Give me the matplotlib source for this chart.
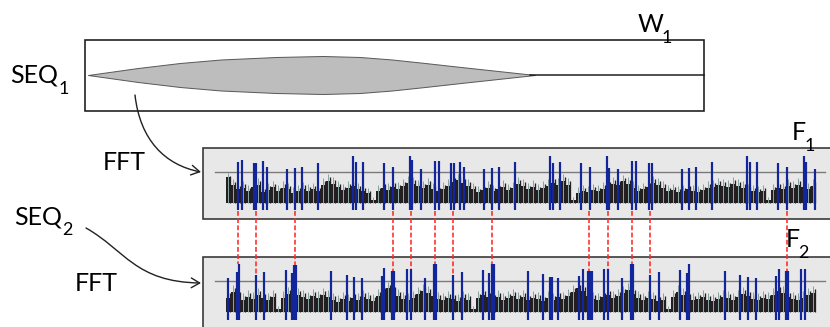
import matplotlib.pyplot as plt
import numpy as np
from matplotlib.patches import Rectangle, FancyArrowPatch
from matplotlib.path import Path

plt.rcParams['font.family'] = ['Lato', 'DejaVu Sans']

# window shape of SEQ1 (x, half height in px)
lens_x = [88, 138, 180, 221, 276, 323, 360, 392, 425, 461, 498, 535]
lens_h = [0, 7, 12, 15.5, 18, 19, 18, 15.5, 12, 8, 4, 0]

# background spectrum, one value per 5 px bin (height above base)
f1_black = [26, 18, 14, 15, 12, 16, 18, 11, 13, 16,
            12, 15, 14, 10, 12, 14, 12, 14, 12, 18,
            22, 19, 16, 13, 15, 17, 14, 12, 10, 3,
            12, 15, 13, 16, 14, 17, 20, 19, 17, 15,
            18, 14, 12, 14, 17, 21, 23, 20, 17, 14,
            11, 13, 15, 12, 14, 16, 13, 15, 19, 17,
            14, 16, 13, 15, 17, 20, 18, 22, 18, 3,
            10, 12, 11, 13, 12, 14, 17, 19, 18, 22,
            19, 15, 12, 14, 16, 20, 18, 15, 12, 13,
            11, 12, 14, 12, 11, 13, 15, 16, 18, 17,
            16, 19, 17, 15, 13, 12, 11, 12, 3, 13,
            15, 14, 17, 15, 18, 16, 14, 17]
f1_spike = [30, 24, 20, 22, 18, 24, 25, 17, 20, 22,
            18, 22, 20, 16, 18, 21, 19, 20, 18, 25,
            29, 26, 22, 19, 22, 24, 20, 18, 15, 6,
            18, 22, 20, 23, 21, 24, 27, 26, 23, 22,
            25, 20, 18, 21, 24, 28, 29, 27, 24, 20,
            17, 19, 22, 18, 20, 23, 19, 21, 26, 24,
            20, 23, 19, 22, 24, 27, 25, 29, 25, 6,
            16, 18, 17, 19, 18, 21, 24, 26, 25, 28,
            26, 22, 18, 20, 23, 27, 25, 22, 18, 19,
            17, 18, 20, 18, 17, 19, 22, 23, 25, 24,
            23, 26, 24, 22, 19, 18, 17, 18, 6, 19,
            22, 20, 24, 22, 25, 23, 20, 24]
f2_black = [14, 20, 16, 12, 15, 13, 17, 14, 12, 15,
            3, 14, 18, 20, 17, 15, 13, 16, 14, 17,
            15, 12, 10, 13, 11, 14, 12, 15, 13, 11,
            16, 20, 24, 21, 16, 13, 12, 14, 18, 21,
            19, 16, 13, 12, 14, 13, 11, 14, 12, 3,
            14, 17, 15, 13, 15, 12, 14, 16, 13, 15,
            12, 14, 13, 11, 14, 12, 15, 13, 16, 20,
            24, 21, 16, 13, 12, 15, 17, 14, 16, 19,
            22, 18, 14, 12, 14, 13, 11, 12, 3, 15,
            20, 17, 14, 12, 13, 15, 12, 11, 13, 15,
            14, 12, 15, 18, 16, 13, 12, 14, 13, 17,
            21, 19, 15, 13, 12, 14, 17, 19]
f2_spike = [22, 27, 23, 19, 22, 20, 24, 21, 19, 22,
            6, 21, 25, 28, 24, 22, 20, 23, 21, 24,
            22, 19, 17, 20, 18, 21, 19, 22, 20, 18,
            23, 27, 30, 28, 23, 20, 19, 21, 25, 28,
            26, 23, 20, 19, 21, 20, 18, 21, 19, 6,
            21, 24, 22, 20, 22, 19, 21, 23, 20, 22,
            19, 21, 20, 18, 21, 19, 22, 20, 23, 27,
            30, 28, 23, 20, 19, 22, 24, 21, 23, 26,
            29, 25, 21, 19, 21, 20, 18, 19, 6, 22,
            27, 24, 21, 19, 20, 22, 19, 18, 20, 22,
            21, 19, 22, 25, 23, 20, 19, 21, 20, 24,
            28, 26, 22, 20, 19, 21, 24, 26]

# peaks (x position, top y)
f1_peak_x = [238, 242, 254, 256, 263, 267, 287, 295, 302, 318, 353, 356, 363, 384, 393,
             410, 412, 421, 435, 439, 451, 454, 460, 464, 484, 492, 499, 515, 550, 553,
             560, 581, 590, 607, 609, 618, 632, 636, 649, 652, 682, 689, 696, 712, 747,
             750, 757, 778, 787, 804, 806, 815]
f1_peak_top = [162, 160, 163, 163, 161, 167, 169, 168, 167, 163, 156, 162, 162, 163, 167,
               156, 160, 169, 161, 161, 163, 163, 162, 167, 169, 168, 167, 162, 156, 163,
               162, 163, 167, 156, 168, 169, 161, 161, 163, 163, 169, 168, 167, 162, 156,
               162, 162, 163, 167, 156, 162, 169]
f2_peak_x = [228, 237, 239, 256, 264, 286, 292, 294, 296, 331, 347, 354, 362, 382, 383.5,
             392, 394, 407, 411, 425, 434, 436, 453, 462, 483, 489, 492, 493.5, 528, 543,
             550, 552, 558, 579, 583, 588, 590, 592, 604, 608, 622, 631, 633, 650, 659,
             680, 687, 689, 725, 740, 748, 756, 776, 779, 786, 788, 801, 805]
f2_peak_top = [278, 272, 264, 275, 272, 270, 273, 265, 265, 271, 275, 277, 278, 276, 268,
               271, 271, 269, 269, 278, 264, 264, 275, 272, 270, 273, 264, 264, 271, 274,
               277, 277, 278, 276, 269, 271, 271, 271, 269, 269, 278, 264, 264, 275, 272,
               270, 273, 264, 271, 275, 277, 278, 276, 269, 271, 271, 269, 269]

# matched peaks
match_x = [238, 256, 295, 393, 411, 435, 453, 492, 589, 608, 632, 650, 787]
match_end = [264, 275, 265, 271, 269, 264, 275, 264, 271, 269, 264, 275, 271]

fig = plt.figure(figsize=(8.3, 3.27), dpi=100)
ax = fig.add_axes([0, 0, 1, 1])
ax.set_xlim(0, 830)
ax.set_ylim(327, 0)
ax.axis('off')

PX = 0.72  # points per pixel

# top window box
ax.add_patch(Rectangle((85, 40), 619, 71, fill=False, ec='#1a1a1a', lw=1.6 * PX))
ax.plot([530, 704], [75, 75], color='#1a1a1a', lw=1.5 * PX)
lx = np.array(lens_x)
lh = np.array(lens_h)
ax.fill_between(lx, 75 - lh, 75 + lh, color='#bdbdbd', ec='#5a5a5a', lw=1 * PX)


def spectrum(top, height, base, black, spike, px, ptop, pbottom):
    ax.add_patch(Rectangle((203, top), 640, height, fc='#e8e8e8', ec='#333333', lw=1.6 * PX))
    ax.plot([215, 825], [base - 31, base - 31], color='#7a7a7a', lw=1.4 * PX)
    xs = 226 + 5 * np.arange(len(black))
    ax.bar(xs, -np.array(black), bottom=base, width=5, align='edge', color='#231f20', lw=0)
    xs2 = 226 + 5 * np.arange(len(spike))
    ax.vlines(xs2 + 1.5, base, base - np.array(spike), color='#8aa3a3', lw=1.0 * PX)
    ax.vlines(xs2 + 3.5, base, base - np.array(spike) + 3, color='#231f20', lw=1.3 * PX)
    ax.vlines(px, pbottom, ptop, color='#13259a', lw=2.2 * PX)


spectrum(148, 71, 203, f1_black, f1_spike, f1_peak_x, f1_peak_top, 210)
spectrum(257, 100, 312, f2_black, f2_spike, f2_peak_x, f2_peak_top, 320)

ax.vlines(match_x, 211, match_end, color='#ff2a2a', lw=1.6 * PX,
          linestyles=(0, (3, 1.5)))


# arrows
def curve(p0, c1, c2, p1):
    path = Path([p0, c1, c2, p1], [Path.MOVETO, Path.CURVE4, Path.CURVE4, Path.CURVE4])
    ax.add_patch(FancyArrowPatch(path=path, arrowstyle='->,head_length=6,head_width=3.5',
                                 color='#222222', lw=1.4 * PX))


curve((135, 95), (140, 140), (165, 165), (201, 172))
curve((86, 228), (125, 250), (135, 282), (201, 283))


def label(x, y, main, sub, gap=0.5):
    t = ax.text(x, y, main, fontsize=18, va='baseline', ha='left')
    ax.annotate(sub, xy=(1, 0), xycoords=t, xytext=(gap, -5), textcoords='offset points',
                fontsize=13, va='baseline', ha='left')


label(10, 83, 'SEQ', '1')
label(638, 32, 'W', '1', -1.5)
label(792, 140, 'F', '1', -1.5)
label(14, 224, 'SEQ', '2')
label(786, 247, 'F', '2', -1.5)
ax.text(103, 170, 'FFT', fontsize=18, va='baseline', ha='left')
ax.text(75, 291, 'FFT', fontsize=18, va='baseline', ha='left')

fig.savefig('out.png', dpi=100)
